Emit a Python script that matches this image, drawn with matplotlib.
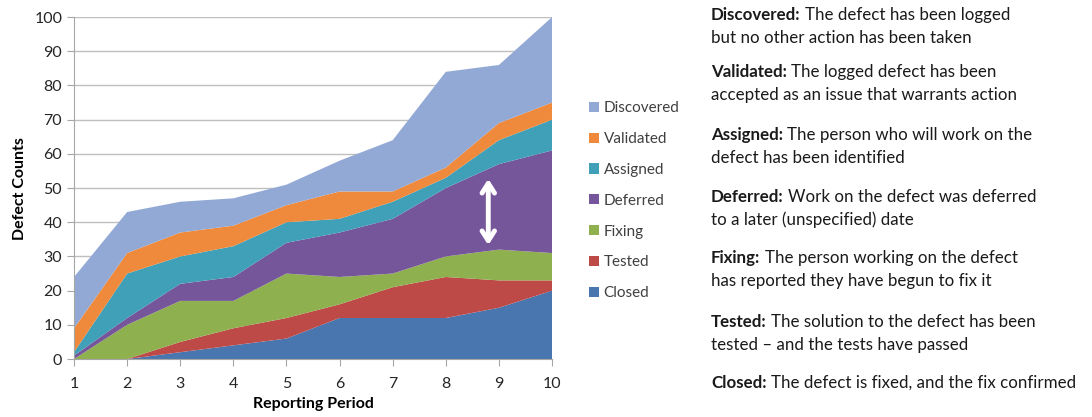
import matplotlib
matplotlib.use('Agg')
import matplotlib.pyplot as plt
from matplotlib.patches import Patch

plt.rcParams['font.family'] = ['Lato', 'DejaVu Sans']

# Data: defect counts per state, stacked bottom -> top
periods = [1, 2, 3, 4, 5, 6, 7, 8, 9, 10]
closed = [0, 0, 2, 4, 6, 12, 12, 12, 15, 20]
tested = [0, 0, 3, 5, 6, 4, 9, 12, 8, 3]
fixing = [0, 10, 12, 8, 13, 8, 4, 6, 9, 8]
deferred = [1, 2, 5, 7, 9, 13, 16, 20, 25, 30]
assigned = [1, 13, 8, 9, 6, 4, 5, 3, 7, 9]
validated = [7, 6, 7, 6, 5, 8, 3, 3, 5, 5]
discovered = [15, 12, 9, 8, 6, 9, 15, 28, 17, 25]

states = ['Closed', 'Tested', 'Fixing', 'Deferred', 'Assigned', 'Validated', 'Discovered']
colors = ['#4A76B0', '#BE4A48', '#8FB04E', '#76569A', '#3FA0B8', '#EF8A3C', '#93A9D5']

descriptions = [
    ('Discovered:', 'The defect has been logged', 'but no other action has been taken'),
    ('Validated:', 'The logged defect has been', 'accepted as an issue that warrants action'),
    ('Assigned:', 'The person who will work on the', 'defect has been identified'),
    ('Deferred:', 'Work on the defect was deferred', 'to a later (unspecified) date'),
    ('Fixing:', 'The person working on the defect', 'has reported they have begun to fix it'),
    ('Tested:', 'The solution to the defect has been', 'tested \u2013 and the tests have passed'),
    ('Closed:', 'The defect is fixed, and the fix confirmed', ''),
]
desc_y = [15, 72, 135, 197, 258, 322, 383]   # pixel rows of first lines

fig = plt.figure(figsize=(10.92, 4.17), dpi=100)
ax = fig.add_axes([0.0678, 0.139, 0.4377, 0.820])

ax.stackplot(periods, closed, tested, fixing, deferred, assigned, validated, discovered,
             colors=colors, zorder=2)

ax.set_xlim(1, 10)
ax.set_ylim(0, 100)
ax.set_xticks(periods)
ax.set_yticks(range(0, 101, 10))
ax.grid(axis='y', color='#BFBFBF', lw=1, zorder=0)
for s in ['top', 'right']:
    ax.spines[s].set_visible(False)
for s in ['left', 'bottom']:
    ax.spines[s].set_color('#A6A6A6')
ax.tick_params(axis='both', colors='#A6A6A6', labelcolor='#262626', labelsize=11.5, length=5)
ax.tick_params(axis='x', pad=8)
ax.set_xlabel('Reporting Period', fontsize=11.5, fontweight='bold', labelpad=4)
ax.set_ylabel('Defect Counts', fontsize=11.5, fontweight='bold', labelpad=5)

# white double arrow inside the Deferred band
ax.annotate('', xy=(8.8, 32.5), xytext=(8.8, 53.5),
            arrowprops=dict(arrowstyle='<->,head_length=0.7,head_width=0.45',
                            color='white', lw=3.5), zorder=5)

handles = [Patch(facecolor=c, edgecolor='none') for c in colors[::-1]]
fig.legend(handles, states[::-1], loc='upper left', bbox_to_anchor=(0.527, 0.79),
           frameon=False, fontsize=11, handlelength=0.65, handleheight=0.65,
           handletextpad=0.3, labelspacing=1.1, labelcolor='#404040')

H = 417.0
fs = 12.2
for (bold, rest, line2), py in zip(descriptions, desc_y):
    yf = 1 - py / H
    t = fig.text(0.651, yf, bold, fontsize=fs, fontweight='bold', color='#1a1a1a', va='center')
    ax.annotate(rest, xy=(1, 0.5), xycoords=t, xytext=(3.2, 0), textcoords='offset points',
                va='center', ha='left', fontsize=fs, color='#1a1a1a', annotation_clip=False)
    if line2:
        fig.text(0.651, 1 - (py + 23) / H, line2, fontsize=fs, color='#1a1a1a', va='center')

fig.savefig('out.png', dpi=100)
